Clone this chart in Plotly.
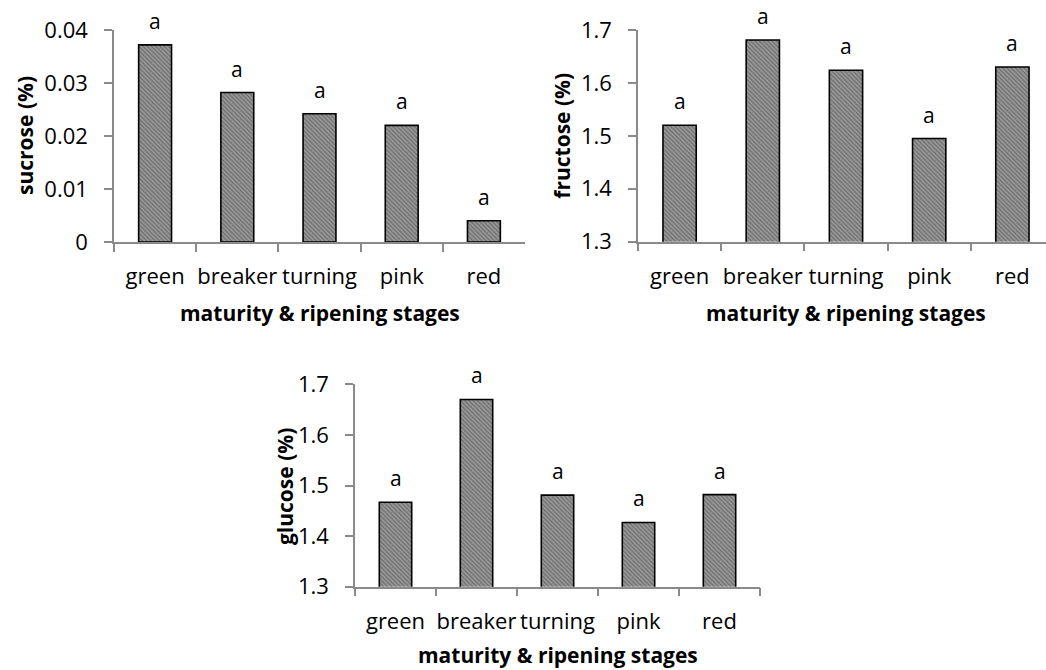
import plotly.graph_objects as go

stages = ["green", "breaker", "turning", "pink", "red"]
sucrose = [0.0372, 0.0282, 0.0242, 0.0220, 0.0040]
fructose = [1.520, 1.681, 1.624, 1.495, 1.630]
glucose = [1.467, 1.670, 1.481, 1.427, 1.482]
letters_sucrose = ["a", "a", "a", "a", "a"]
letters_fructose = ["a", "a", "a", "a", "a"]
letters_glucose = ["a", "a", "a", "a", "a"]
ticks_sucrose = [0, 0.01, 0.02, 0.03, 0.04]
ticks_sucrose_text = ["0", "0.01", "0.02", "0.03", "0.04"]
ticks_sugar = [1.3, 1.4, 1.5, 1.6, 1.7]
ticks_sugar_text = ["1.3", "1.4", "1.5", "1.6", "1.7"]

FONT = "Open Sans"
AXC = "#8a8a8a"
W, H = 1046, 670

fig = go.Figure()

panels = [
    (sucrose, letters_sucrose, "x", "y", [0, 0.04], ticks_sucrose, ticks_sucrose_text, (114, 525), (30, 242), [-0.5, 4.5]),
    (fructose, letters_fructose, "x2", "y2", [1.3, 1.7], ticks_sugar, ticks_sugar_text, (638, 1046), (30, 241.7), [-0.5, 4.404]),
    (glucose, letters_glucose, "x3", "y3", [1.3, 1.7], ticks_sugar, ticks_sugar_text, (355, 760), (384.3, 586.7), [-0.5, 4.5]),
]

annotations = []
for i, (vals, letters, xa, ya, yr, tv, tt, xd, yd, xr) in enumerate(panels):
    fig.add_trace(go.Bar(
        x=stages, y=vals, xaxis=xa, yaxis=ya, width=0.4,
        marker=dict(
            color="#7a7a7a",
            line=dict(color="black", width=1.6),
            pattern=dict(shape="\\", bgcolor="#9a9a9a", fgcolor="#3a3a3a", size=3, solidity=0.4),
        ),
        cliponaxis=False, showlegend=False,
    ))
    for s, v, t in zip(stages, vals, letters):
        annotations.append(dict(
            x=s, y=v, xref=xa, yref=ya, text=t, showarrow=False,
            yanchor="bottom", yshift=8, font=dict(family=FONT, size=21, color="black"),
        ))
    sfx = "" if i == 0 else str(i + 1)
    fig.update_layout(**{
        "xaxis" + sfx: dict(
            domain=[xd[0] / W, xd[1] / W], range=xr, type="category",
            anchor=ya, showline=True, linecolor=AXC, linewidth=1.5,
            ticks="outside", tickson="boundaries", ticklen=8, tickcolor=AXC, tickwidth=1.5,
            showgrid=False, zeroline=False, ticklabelstandoff=14, tickangle=0,
            automargin=False,
            tickfont=dict(family=FONT, size=22, color="black"),
        ),
        "yaxis" + sfx: dict(
            domain=[(H - yd[1]) / H, (H - yd[0]) / H], range=yr,
            anchor=xa, showline=True, linecolor=AXC, linewidth=1.5,
            ticks="outside", ticklen=8, tickcolor=AXC, tickwidth=1.5,
            showgrid=False, zeroline=False, tickvals=tv, ticktext=tt,
            ticklabelstandoff=12, automargin=False,
            tickfont=dict(family=FONT, size=22, color="black"),
        ),
    })

# axis titles (pixel centres)
xtitles = [(319.5, 313), (846, 313), (557.5, 655)]
ytitles = [(25, 136), (561.7, 136), (285, 487)]
for (xp, yp) in xtitles:
    annotations.append(dict(
        x=xp / W, y=1 - yp / H, xref="paper", yref="paper", text="<b>maturity &amp; ripening stages</b>",
        showarrow=False, xanchor="center", yanchor="middle",
        font=dict(family=FONT, size=21, color="black"),
    ))
for (xp, yp), t in zip(ytitles, ["sucrose (%)", "fructose (%)", "glucose (%)"]):
    annotations.append(dict(
        x=xp / W, y=1 - yp / H, xref="paper", yref="paper", text="<b>" + t + "</b>",
        showarrow=False, xanchor="center", yanchor="middle", textangle=-90,
        font=dict(family=FONT, size=21, color="black"),
    ))

fig.update_layout(
    width=W, height=H, margin=dict(l=0, r=0, t=0, b=0),
    paper_bgcolor="white", plot_bgcolor="white",
    annotations=annotations,
)

fig.write_html(
    "out.html",
    config={"displayModeBar": False},
    post_script="document.body.style.margin='0';document.body.style.overflow='hidden';",
)
